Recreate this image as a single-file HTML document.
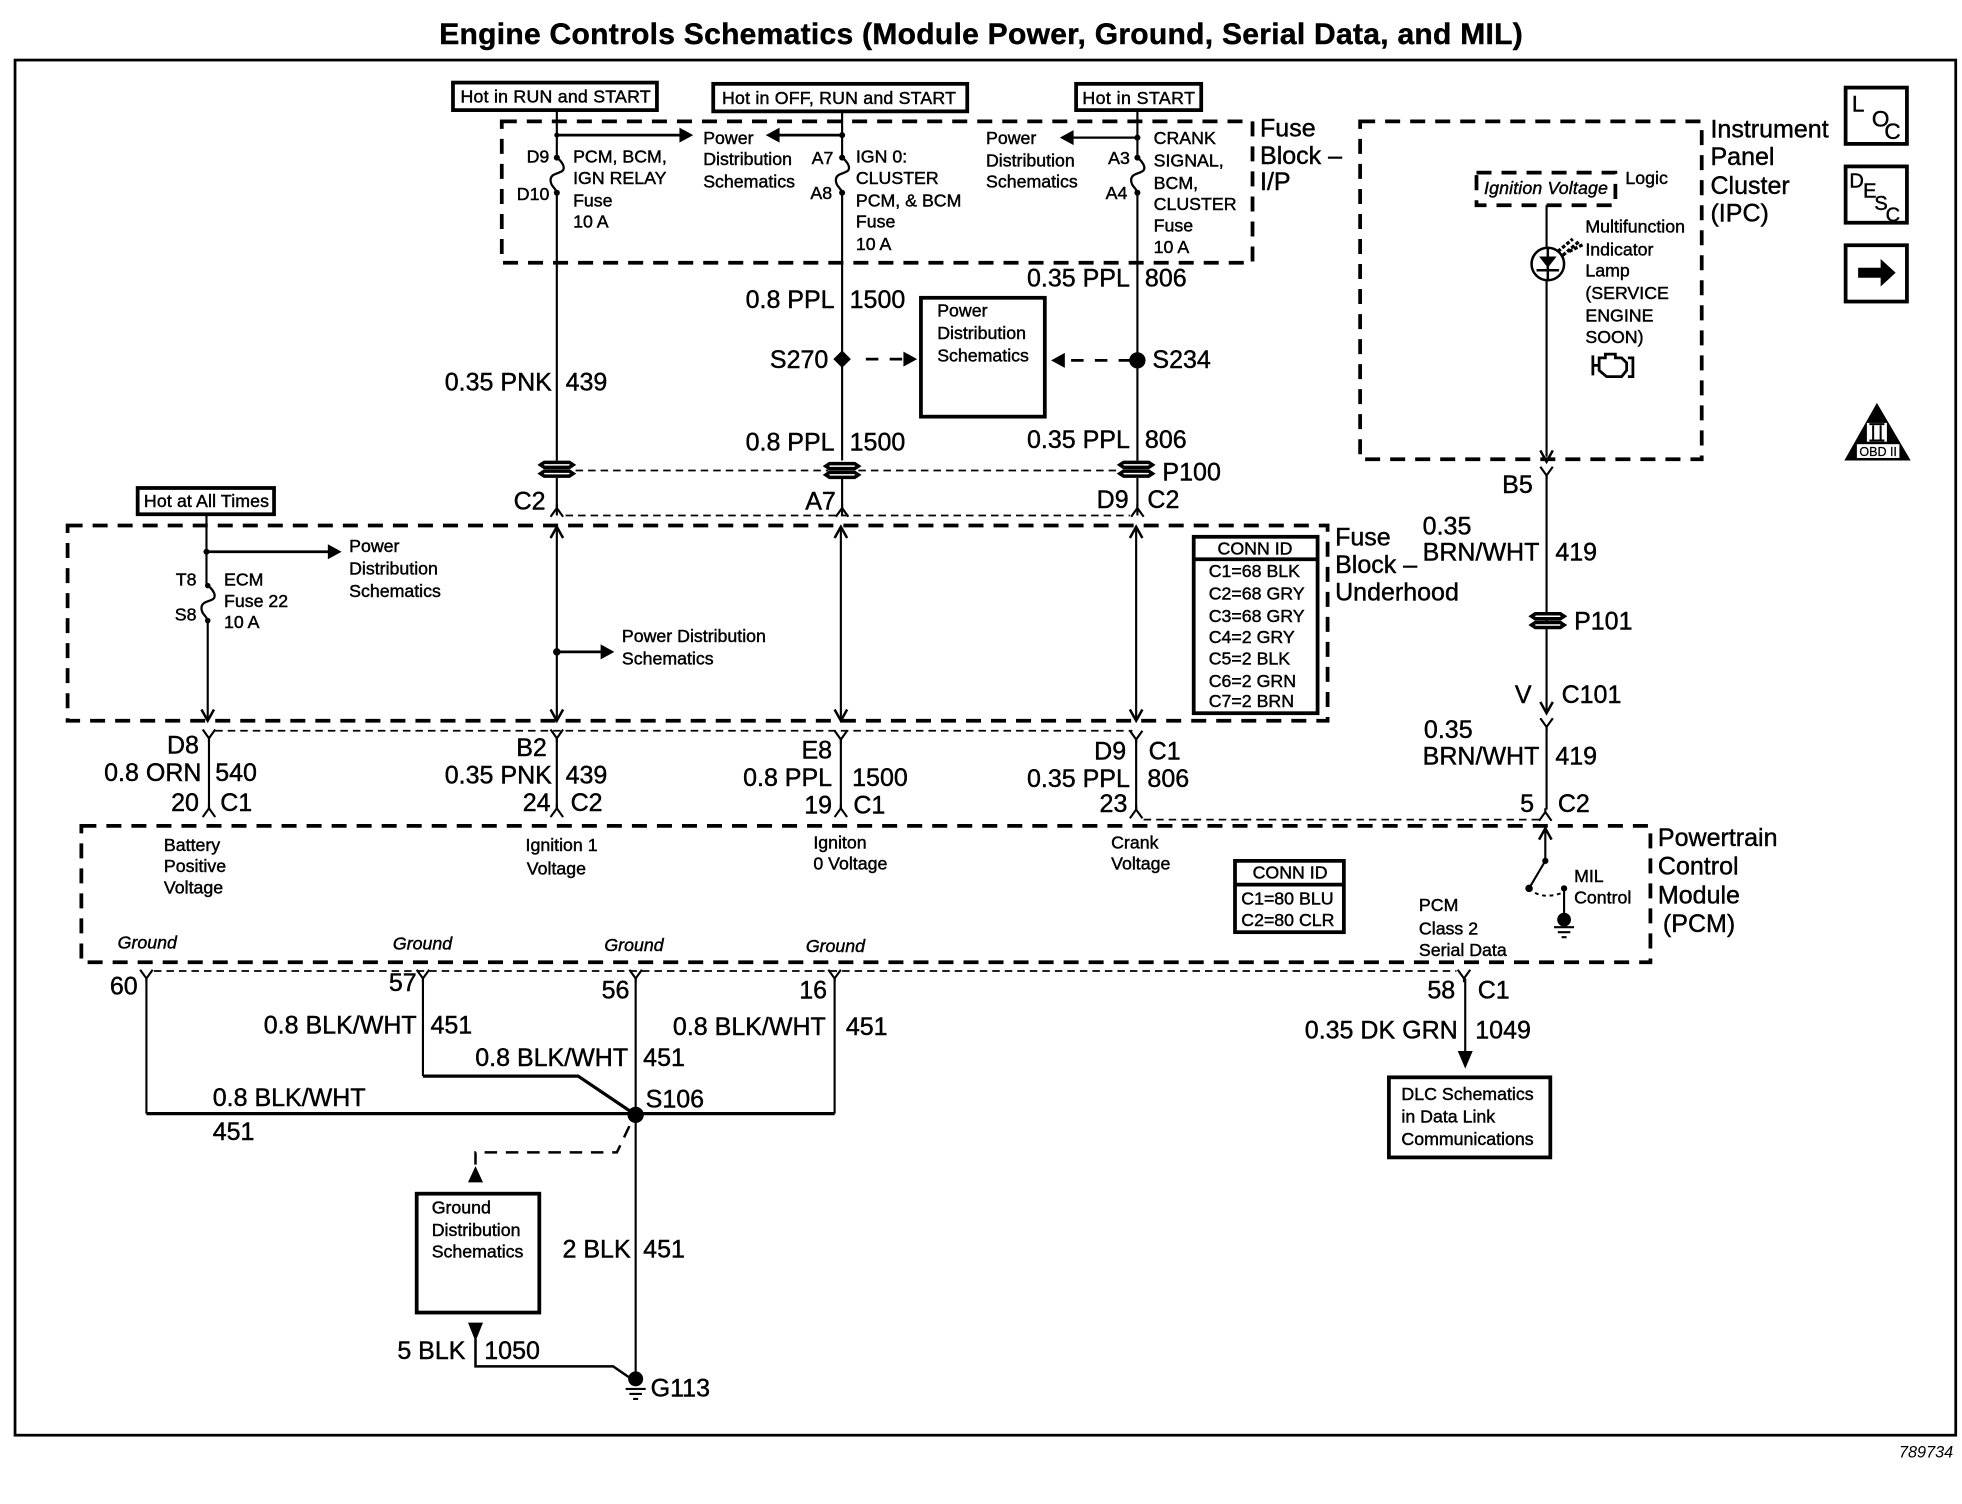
<!DOCTYPE html>
<html><head><meta charset="utf-8"><style>
html,body{margin:0;padding:0;background:#fff}
svg{display:block}
text{font-family:"Liberation Sans",sans-serif;fill:#000;stroke:#000;stroke-width:.35}
.t{font-size:20px}.s{font-size:14.2px}.r{text-anchor:end}.c{text-anchor:middle}.i{font-style:italic}
.w{fill:none;stroke:#000;stroke-width:1.7}
.b{fill:none;stroke:#000;stroke-width:2.6}
.box{fill:none;stroke:#000;stroke-width:3}
.d{fill:none;stroke:#000;stroke-width:3;stroke-dasharray:12 8}
.td{fill:none;stroke:#000;stroke-width:1.4;stroke-dasharray:6 4}
.m{fill:none;stroke:#000;stroke-width:2.2;stroke-dasharray:10 9}
.f{fill:#000;stroke:none}
</style></head><body>
<svg xmlns="http://www.w3.org/2000/svg" width="1962" height="1504" viewBox="0 0 1568 1202">
<defs>
<g id="conn"><path d="M-10 -5.500H10L13 -3.500L10 -1.500H-10L-13 -3.500ZM-10 1.500H10L13 3.500L10 5.500H-10L-13 3.500Z" fill="#fff" stroke="#000" stroke-width="2.8"/></g>
<path id="yf" d="M-5 -7L0 0L5 -7M0 0V3" fill="none" stroke="#000" stroke-width="1.7"/>
<path id="up" d="M-5 7L0 0L5 7M0 0V-3" fill="none" stroke="#000" stroke-width="1.7"/>
<path id="au" d="M-5 9L0 0L5 9" fill="none" stroke="#000" stroke-width="2"/>
<path id="ad" d="M-5 -9L0 0L5 -9" fill="none" stroke="#000" stroke-width="2"/>
<path id="fuse" d="M0 0C3 2 7 7 5 10C3 13 -5 12 -5 18C-5 23 -1 24 0 28" fill="none" stroke="#000" stroke-width="1.8"/>
<path id="gnd" d="M-8 0H8M-5 4H5M-2 8H2" fill="none" stroke="#000" stroke-width="1.7"/>
</defs>
<rect width="1568" height="1202" fill="#fff"/>
<text x="351" y="35" textLength="866" style="font-size:24px;font-weight:bold">Engine Controls Schematics (Module Power, Ground, Serial Data, and MIL)</text>
<rect x="12" y="48" width="1551" height="1099" fill="none" stroke="#000" stroke-width="2.2"/>
<text x="1561" y="1165" class="s r i" style="font-size:13px;stroke-width:0">789734</text>

<!-- top hot boxes -->
<rect x="362" y="66" width="163" height="22" class="box"/><text x="368" y="82" class="s" textLength="152">Hot in RUN and START</text>
<rect x="570" y="67" width="203" height="22" class="box"/><text x="577" y="83" class="s" textLength="187">Hot in OFF, RUN and START</text>
<rect x="860" y="67" width="100" height="21" class="box"/><text x="865" y="83" class="s" textLength="90">Hot in START</text>
<rect x="110" y="390" width="109" height="21" class="box"/><text x="115" y="405" class="s" textLength="100">Hot at All Times</text>

<!-- fuse block I/P -->
<rect x="401" y="97" width="600" height="113" class="d"/>
<text x="1007" y="109" class="t">Fuse</text><text x="1007" y="131" class="t">Block –</text><text x="1007" y="152" class="t">I/P</text>

<path class="w" d="M445 88V126M445 154V368M445 382V412"/>
<use href="#fuse" x="445" y="126"/>
<circle cx="445" cy="108" r="2" class="f"/><circle cx="445" cy="126" r="2.4" class="f"/><circle cx="445" cy="154" r="2.4" class="f"/>
<path d="M445 108H545" stroke="#000" stroke-width="2.2"/><path class="f" d="M543 102L554 108L543 114Z"/>
<text x="439" y="130" class="s r">D9</text><text x="439" y="160" class="s r">D10</text>
<text x="458" y="130" class="s">PCM, BCM,</text><text x="458" y="147" class="s">IGN RELAY</text><text x="458" y="165" class="s">Fuse</text><text x="458" y="182" class="s">10 A</text>
<text x="562" y="115" class="s">Power</text><text x="562" y="132" class="s">Distribution</text><text x="562" y="150" class="s">Schematics</text>

<path class="w" d="M673 88V126M673 154V368M673 382V412"/>
<use href="#fuse" x="673" y="126"/>
<circle cx="673" cy="108" r="2.4" class="f"/><circle cx="673" cy="126" r="2.4" class="f"/><circle cx="673" cy="154" r="2.4" class="f"/>
<path d="M673 108H620" stroke="#000" stroke-width="2.2"/><path class="f" d="M623 102L612 108L623 114Z"/>
<text x="666" y="131" class="s r">A7</text><text x="665" y="159" class="s r">A8</text>
<text x="684" y="130" class="s">IGN 0:</text><text x="684" y="147" class="s">CLUSTER</text><text x="684" y="165" class="s">PCM, &amp; BCM</text><text x="684" y="182" class="s">Fuse</text><text x="684" y="200" class="s">10 A</text>

<path class="w" d="M909 88V126M909 154V368M909 382V412"/>
<use href="#fuse" x="909" y="126"/>
<circle cx="909" cy="110" r="2.4" class="f"/><circle cx="909" cy="126" r="2.4" class="f"/><circle cx="909" cy="154" r="2.4" class="f"/>
<path d="M909 110H855" stroke="#000" stroke-width="1.8"/><path class="f" d="M858 104L847 110L858 116Z"/>
<text x="903" y="131" class="s r">A3</text><text x="901" y="159" class="s r">A4</text>
<text x="788" y="115" class="s">Power</text><text x="788" y="133" class="s">Distribution</text><text x="788" y="150" class="s">Schematics</text>
<text x="922" y="115" class="s">CRANK</text><text x="922" y="133" class="s">SIGNAL,</text><text x="922" y="151" class="s">BCM,</text><text x="922" y="168" class="s">CLUSTER</text><text x="922" y="185" class="s">Fuse</text><text x="922" y="202" class="s">10 A</text>

<text x="903" y="229" class="t r">0.35 PPL</text><text x="915" y="229" class="t">806</text>
<text x="667" y="246" class="t r">0.8 PPL</text><text x="679" y="246" class="t">1500</text>
<rect x="736" y="238" width="99" height="95" class="box"/>
<text x="749" y="253" class="s">Power</text><text x="749" y="271" class="s">Distribution</text><text x="749" y="289" class="s">Schematics</text>
<path class="f" d="M673 280L680 287L673 294L666 287Z"/><circle cx="909" cy="288" r="6.5" class="f"/>
<text x="662" y="294" class="t r">S270</text><text x="921" y="294" class="t">S234</text>
<path class="m" d="M692 287H724M904 288H854"/>
<path class="f" d="M722 281L733 287L722 293ZM851 282L840 288L851 294Z"/>
<text x="441" y="312" class="t r">0.35 PNK</text><text x="452" y="312" class="t">439</text>
<text x="667" y="360" class="t r">0.8 PPL</text><text x="679" y="360" class="t">1500</text>
<text x="903" y="358" class="t r">0.35 PPL</text><text x="915" y="358" class="t">806</text>
<path class="td" d="M460 376H662M686 376H895"/>
<use href="#conn" x="445" y="375"/><use href="#conn" x="673" y="376"/><use href="#conn" x="908" y="375"/>
<text x="929" y="384" class="t">P100</text>
<text x="436" y="407" class="t r">C2</text><text x="668" y="407" class="t r">A7</text><text x="902" y="406" class="t r">D9</text><text x="917" y="406" class="t">C2</text>
<use href="#up" x="445" y="406"/><use href="#up" x="673" y="406"/><use href="#up" x="909" y="406"/>
<path class="td" d="M452 412H903"/>

<!-- underhood -->
<rect x="54" y="420" width="1007" height="156" class="d"/>
<text x="1067" y="436" class="t">Fuse</text><text x="1067" y="458" class="t">Block –</text><text x="1067" y="480" class="t">Underhood</text>
<path class="w" d="M165 411V468M166 496V576M445 421V575M672 421V575M908 421V575"/>
<use href="#fuse" x="166" y="468"/><circle cx="165" cy="441" r="2.4" class="f"/><circle cx="166" cy="468" r="2.2" class="f"/><circle cx="166" cy="496" r="2.2" class="f"/>
<path d="M165 441H265" stroke="#000" stroke-width="2.2"/><path class="f" d="M262 435L273 441L262 447Z"/>
<use href="#ad" x="166" y="576"/><use href="#ad" x="445" y="576"/><use href="#ad" x="672" y="576"/><use href="#ad" x="908" y="576"/>
<use href="#au" x="445" y="421"/><use href="#au" x="672" y="421"/><use href="#au" x="908" y="421"/>
<text x="157" y="468" class="s r">T8</text><text x="157" y="496" class="s r">S8</text>
<text x="179" y="468" class="s">ECM</text><text x="179" y="485" class="s">Fuse 22</text><text x="179" y="502" class="s">10 A</text>
<text x="279" y="441" class="s">Power</text><text x="279" y="459" class="s">Distribution</text><text x="279" y="477" class="s">Schematics</text>
<circle cx="445" cy="521" r="3" class="f"/><path d="M445 521H483" stroke="#000" stroke-width="2.2"/><path class="f" d="M480 515L491 521L480 527Z"/>
<text x="497" y="513" class="s">Power Distribution</text><text x="497" y="531" class="s">Schematics</text>
<rect x="954" y="429" width="99" height="141" class="box"/><path class="box" d="M954 447H1053"/>
<text x="1003" y="443" class="s c">CONN ID</text>
<text x="966" y="461" class="s">C1=68 BLK</text><text x="966" y="479" class="s">C2=68 GRY</text><text x="966" y="497" class="s">C3=68 GRY</text><text x="966" y="514" class="s">C4=2 GRY</text><text x="966" y="531" class="s">C5=2 BLK</text><text x="966" y="549" class="s">C6=2 GRN</text><text x="966" y="565" class="s">C7=2 BRN</text>

<!-- between underhood and PCM -->
<path class="td" d="M172 584H905"/>
<use href="#yf" x="167" y="590"/><use href="#yf" x="445" y="590"/><use href="#yf" x="672" y="591"/><use href="#yf" x="908" y="591"/>
<path class="w" d="M167 590V647M445 590V647M672 591V647M908 591V648"/>
<use href="#up" x="167" y="646"/><use href="#up" x="445" y="646"/><use href="#up" x="672" y="646"/><use href="#up" x="908" y="647"/>
<text x="159" y="602" class="t r">D8</text><text x="161" y="624" class="t r">0.8 ORN</text><text x="172" y="624" class="t">540</text><text x="159" y="648" class="t r">20</text><text x="176" y="648" class="t">C1</text>
<text x="437" y="604" class="t r">B2</text><text x="441" y="626" class="t r">0.35 PNK</text><text x="452" y="626" class="t">439</text><text x="440" y="648" class="t r">24</text><text x="456" y="648" class="t">C2</text>
<text x="665" y="606" class="t r">E8</text><text x="665" y="628" class="t r">0.8 PPL</text><text x="681" y="628" class="t">1500</text><text x="665" y="650" class="t r">19</text><text x="682" y="650" class="t">C1</text>
<text x="900" y="607" class="t r">D9</text><text x="918" y="607" class="t">C1</text><text x="903" y="629" class="t r">0.35 PPL</text><text x="917" y="629" class="t">806</text><text x="901" y="649" class="t r">23</text>
<path class="td" d="M914 655H1230"/>

<!-- PCM -->
<rect x="65" y="660" width="1254" height="109" class="d"/>
<text x="1325" y="676" class="t">Powertrain</text><text x="1325" y="699" class="t">Control</text><text x="1325" y="722" class="t">Module</text><text x="1329" y="745" class="t">(PCM)</text>
<text x="131" y="680" class="s">Battery</text><text x="131" y="697" class="s">Positive</text><text x="131" y="714" class="s">Voltage</text>
<text x="420" y="680" class="s">Ignition 1</text><text x="421" y="699" class="s">Voltage</text>
<text x="650" y="678" class="s">Igniton</text><text x="650" y="695" class="s">0 Voltage</text>
<text x="888" y="678" class="s">Crank</text><text x="888" y="695" class="s">Voltage</text>
<rect x="987" y="688" width="87" height="57" class="box"/><path class="box" d="M987 707H1074"/>
<text x="1031" y="702" class="s c">CONN ID</text><text x="992" y="723" class="s">C1=80 BLU</text><text x="992" y="740" class="s">C2=80 CLR</text>
<text x="1134" y="728" class="s">PCM</text><text x="1134" y="747" class="s">Class 2</text><text x="1134" y="764" class="s">Serial Data</text>
<text x="1258" y="705" class="s">MIL</text><text x="1258" y="722" class="s">Control</text>
<path class="w" d="M1235 662V688L1222 710"/><use href="#au" x="1235" y="662"/>
<circle cx="1235" cy="688" r="2.5" class="f"/><circle cx="1222" cy="710" r="3" class="f"/><circle cx="1250" cy="710" r="2.5" class="f"/>
<path d="M1222 710Q1232 720 1250 713" fill="none" stroke="#000" stroke-width="1.6" stroke-dasharray="3 3"/>
<path class="w" d="M1250 710V735"/><circle cx="1250" cy="735" r="5.500" class="f"/><use href="#gnd" x="1250" y="741"/>
<text x="94" y="758" class="s i">Ground</text><text x="314" y="759" class="s i">Ground</text><text x="483" y="760" class="s i">Ground</text><text x="644" y="761" class="s i">Ground</text>

<!-- grounds -->
<path class="td" d="M123 776H1164"/>
<use href="#yf" x="117" y="782"/><use href="#yf" x="338" y="782"/><use href="#yf" x="508" y="782"/><use href="#yf" x="667" y="782"/><use href="#yf" x="1170" y="782"/>
<path class="w" d="M117 782V890M338 782V860M508 782V1100M667 782V890"/>
<path class="b" d="M117 890H667M338 860H462L508 891"/>
<circle cx="508" cy="891" r="6.5" class="f"/>
<text x="110" y="795" class="t r">60</text><text x="333" y="792" class="t r">57</text><text x="503" y="798" class="t r">56</text><text x="661" y="798" class="t r">16</text>
<text x="333" y="826" class="t r">0.8 BLK/WHT</text><text x="344" y="826" class="t">451</text>
<text x="502" y="852" class="t r">0.8 BLK/WHT</text><text x="514" y="852" class="t">451</text>
<text x="660" y="827" class="t r">0.8 BLK/WHT</text><text x="676" y="827" class="t">451</text>
<text x="170" y="884" class="t">0.8 BLK/WHT</text><text x="170" y="911" class="t">451</text>
<text x="516" y="885" class="t">S106</text>
<path d="M503 900L493 921H380V932" fill="none" stroke="#000" stroke-width="2" stroke-dasharray="10 7"/>
<path class="f" d="M374 945L380 932L386 945Z"/>
<rect x="333" y="954" width="98" height="95" class="box"/>
<text x="345" y="970" class="s">Ground</text><text x="345" y="988" class="s">Distribution</text><text x="345" y="1005" class="s">Schematics</text>
<text x="504" y="1005" class="t r">2 BLK</text><text x="514" y="1005" class="t">451</text>
<path class="f" d="M374 1057H386L380 1072Z"/>
<path class="b" style="stroke-width:2" d="M380 1070V1092H490L506 1103"/>
<text x="372" y="1086" class="t r">5 BLK</text><text x="387" y="1086" class="t">1050</text>
<circle cx="508" cy="1102" r="6" class="f"/><use href="#gnd" x="508" y="1110"/>
<text x="520" y="1116" class="t">G113</text>

<!-- IPC -->
<rect x="1087" y="97" width="273" height="270" class="d"/>
<text x="1367" y="110" class="t">Instrument</text><text x="1367" y="132" class="t">Panel</text><text x="1367" y="155" class="t">Cluster</text><text x="1367" y="177" class="t">(IPC)</text>
<rect x="1180" y="138" width="111" height="26" class="d"/>
<text x="1186" y="155" class="s i" textLength="99">Ignition Voltage</text><text x="1299" y="147" class="s">Logic</text>
<path class="w" d="M1236 164V365"/><use href="#ad" x="1236" y="369"/>
<circle cx="1237" cy="211" r="13" fill="#fff" stroke="#000" stroke-width="2"/>
<path class="f" d="M1230 205H1244L1237 214Z"/><path d="M1228 216H1246M1237 198V224" stroke="#000" stroke-width="2"/>
<path d="M1245 201L1257 191M1249 204L1262 193M1254 201L1266 195" stroke="#000" stroke-width="2.6" stroke-dasharray="3 1.5"/>
<text x="1267" y="186" class="s">Multifunction</text><text x="1267" y="204" class="s">Indicator</text><text x="1267" y="221" class="s">Lamp</text><text x="1267" y="239" class="s">(SERVICE</text><text x="1267" y="257" class="s">ENGINE</text><text x="1267" y="274" class="s">SOON)</text>
<path d="M1273 284V300M1273 292H1278M1278 286L1283 286V283H1291V286H1296L1300 290V296L1296 301H1284L1278 296ZM1301 286H1305V301H1301" fill="none" stroke="#000" stroke-width="2.2"/>

<text x="1225" y="394" class="t r">B5</text>
<use href="#yf" x="1236" y="380"/><path class="w" d="M1236 380V570M1236 580V647"/>
<text x="1137" y="427" class="t">0.35</text><text x="1137" y="448" class="t">BRN/WHT</text><text x="1243" y="448" class="t">419</text>
<use href="#conn" x="1237" y="496"/><text x="1258" y="503" class="t">P101</text>
<text x="1224" y="562" class="t r">V</text><text x="1248" y="562" class="t">C101</text>
<use href="#ad" x="1236" y="570"/><use href="#yf" x="1236" y="581"/>
<text x="1138" y="590" class="t">0.35</text><text x="1137" y="611" class="t">BRN/WHT</text><text x="1243" y="611" class="t">419</text>
<text x="1226" y="649" class="t r">5</text><text x="1245" y="649" class="t">C2</text><use href="#up" x="1235" y="649"/>

<text x="1163" y="798" class="t r">58</text><text x="1181" y="798" class="t">C1</text>
<text x="1165" y="830" class="t r">0.35 DK GRN</text><text x="1179" y="830" class="t">1049</text>
<path class="w" d="M1171 782V842"/><path class="f" d="M1165 840H1177L1171 854Z"/>
<rect x="1110" y="861" width="129" height="64" class="box"/>
<text x="1120" y="879" class="s">DLC Schematics</text><text x="1120" y="897" class="s">in Data Link</text><text x="1120" y="915" class="s">Communications</text>

<!-- right icons -->
<rect x="1475" y="70" width="49" height="45" class="box"/>
<text x="1480" y="89" style="font-size:18px">L</text><text x="1496" y="101" style="font-size:18px">O</text><text x="1506" y="111" style="font-size:18px">C</text>
<rect x="1475" y="133" width="49" height="45" class="box"/>
<text x="1478" y="150" style="font-size:16px">D</text><text x="1489" y="158" style="font-size:16px">E</text><text x="1498" y="168" style="font-size:16px">S</text><text x="1507" y="177" style="font-size:16px">C</text>
<rect x="1475" y="196" width="49" height="45" class="box"/>
<path class="f" d="M1485 214H1503V207L1515 218L1503 229V222H1485Z"/>
<path class="f" d="M1500 322L1527 368H1474Z"/>
<rect x="1492" y="338" width="16" height="15" fill="#fff"/>
<path d="M1497 340V352M1503 340V352M1494 339H1506M1494 352H1506" stroke="#000" stroke-width="1.6"/>
<rect x="1484" y="355" width="34" height="11" fill="#fff"/>
<text x="1501" y="364.500" class="c" style="font-size:10px;stroke-width:.2">OBD II</text>
</svg>
</body></html>
